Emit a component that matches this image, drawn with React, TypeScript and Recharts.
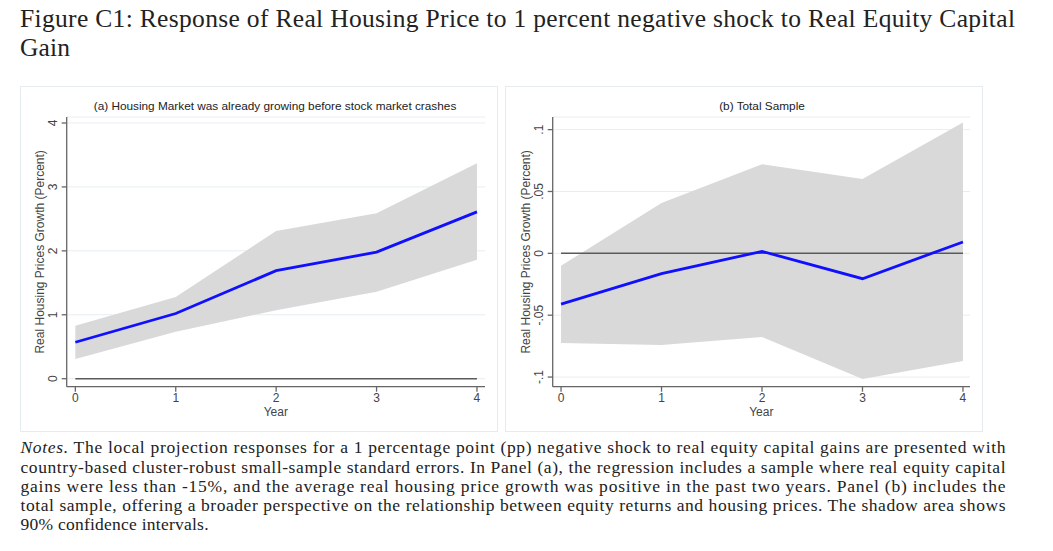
import React from "react"
import { ComposedChart, Area, Line, XAxis, YAxis, CartesianGrid, ReferenceLine } from "recharts"

// horizons (years after the crash)
const years = [0, 1, 2, 3, 4]

// panel (a): housing market already growing
const aEstimate = [0.57, 1.02, 1.69, 1.98, 2.61]
const aUpper = [0.83, 1.28, 2.31, 2.59, 3.37]
const aLower = [0.31, 0.735, 1.07, 1.36, 1.86]
const aTicks = [0, 1, 2, 3, 4]

// panel (b): total sample
const bEstimate = [-0.041, -0.0164, 0.0016, -0.0205, 0.0092]
const bUpper = [-0.01, 0.0406, 0.0721, 0.06, 0.1058]
const bLower = [-0.0724, -0.074, -0.0676, -0.1015, -0.087]
const bTicks = [-0.1, -0.05, 0, 0.05, 0.1]
const bTickLabels = ["-.1", "-.05", "0", ".05", ".1"]

const titleLines = [
  "Figure C1: Response of Real Housing Price to 1 percent negative shock to Real Equity Capital",
  "Gain",
]
const noteLines = [
  " The local projection responses for a 1 percentage point (pp) negative shock to real equity capital gains are presented with",
  "country-based cluster-robust small-sample standard errors. In Panel (a), the regression includes a sample where real equity capital",
  "gains were less than -15%, and the average real housing price growth was positive in the past two years. Panel (b) includes the",
  "total sample, offering a broader perspective on the relationship between equity returns and housing prices. The shadow area shows",
  "90% confidence intervals.",
]

const SANS = "'Liberation Sans', Arial, sans-serif"
const SERIF = "'Liberation Serif', 'Times New Roman', serif"
const INK = "#444"
const AXIS = "#666"

const toRows = (est: number[], lo: number[], hi: number[]) =>
  years.map((y, i) => ({ year: y, est: est[i], band: [lo[i], hi[i]] }))

function YTick(props: any) {
  const { x, y, payload, labels, ticks } = props
  const idx = ticks.indexOf(payload.value)
  const text = labels ? labels[idx] : String(payload.value)
  const bx = x - 3
  return (
    <text
      x={bx}
      y={y}
      transform={`rotate(-90 ${bx} ${y})`}
      textAnchor="middle"
      fontSize={12}
      fontFamily={SANS}
      fill={INK}
    >
      {text}
    </text>
  )
}

interface PanelProps {
  left: number
  width: number
  rightPad: number
  yAxisWidth: number
  est: number[]
  lo: number[]
  hi: number[]
  ticks: number[]
  labels?: string[]
  yDomain: [number, number]
  xDomain: [number, number]
}

function Panel({ left, width, rightPad, yAxisWidth, est, lo, hi, ticks, labels, yDomain, xDomain }: PanelProps) {
  const rows = toRows(est, lo, hi)
  return (
    <div style={{ position: "absolute", left, top: 87 }}>
      <ComposedChart width={width} height={345} data={rows} margin={{ top: 30, right: rightPad, bottom: 0, left: 0 }}>
        <CartesianGrid horizontal vertical={false} stroke="#e6eff0" strokeWidth={1} />
        <XAxis
          dataKey="year"
          type="number"
          domain={xDomain}
          ticks={years}
          allowDataOverflow
          height={45.3}
          tickSize={5}
          tickMargin={2}
          stroke={AXIS}
          strokeWidth={1.3}
          tick={{ fontSize: 12, fontFamily: SANS, fill: INK }}
          label={{ value: "Year", position: "insideBottom", offset: 16, fontSize: 12, fontFamily: SANS, fill: INK }}
        />
        <YAxis
          type="number"
          domain={yDomain}
          ticks={ticks}
          allowDataOverflow
          width={yAxisWidth}
          tickSize={5}
          tickMargin={2}
          stroke={AXIS}
          strokeWidth={1.3}
          tick={<YTick labels={labels} ticks={ticks} />}
          label={{
            value: "Real Housing Prices Growth (Percent)",
            angle: -90,
            position: "insideLeft",
            offset: yAxisWidth - 26.5,
            style: { textAnchor: "middle", fontSize: 12, fontFamily: SANS, fill: INK },
          }}
        />
        <Area
          dataKey="band"
          type="linear"
          fill="#d9d9d9"
          fillOpacity={1}
          stroke="none"
          isAnimationActive={false}
        />
        <ReferenceLine
          segment={[{ x: years[0], y: 0 }, { x: years[years.length - 1], y: 0 }]}
          stroke="#5a5a5a"
          strokeWidth={1.5}
        />
        <Line
          dataKey="est"
          type="linear"
          stroke="#1010ff"
          strokeWidth={2.8}
          dot={false}
          isAnimationActive={false}
        />
      </ComposedChart>
    </div>
  )
}

export default function App() {
  return (
    <div style={{ position: "absolute", left: 0, top: 0, width: 1053, height: 551, background: "#fff", overflow: "hidden" }}>
      <svg width={1053} height={551} style={{ position: "absolute", left: 0, top: 0 }}>
        <text x={20} y={27} fontFamily={SERIF} fontSize={25.5} fill="#222" textLength={995} lengthAdjust="spacing">
          {titleLines[0]}
        </text>
        <text x={20} y={56} fontFamily={SERIF} fontSize={25.5} fill="#222" textLength={50} lengthAdjust="spacing">
          {titleLines[1]}
        </text>

        <rect x={20.5} y={86.5} width={477} height={345} fill="none" stroke="#e4ecee" />
        <rect x={505.5} y={86.5} width={477} height={345} fill="none" stroke="#e4ecee" />

        <text x={275} y={110} textAnchor="middle" fontFamily={SANS} fontSize={11.8} fill="#222">
          (a) Housing Market was already growing before stock market crashes
        </text>
        <text x={762} y={110} textAnchor="middle" fontFamily={SANS} fontSize={11.8} fill="#222">
          (b) Total Sample
        </text>

        {noteLines.map((line, i) => (
          <text
            key={i}
            x={20.5}
            y={453.3 + i * 19.25}
            fontFamily={SERIF}
            fontSize={17.5}
            fill="#222"
            textLength={i === 4 ? 188 : 985}
            lengthAdjust="spacing"
          >
            {i === 0 && <tspan fontStyle="italic">Notes.</tspan>}
            {line}
          </text>
        ))}
      </svg>

      <Panel
        left={20}
        width={475}
        rightPad={10}
        yAxisWidth={46.7}
        est={aEstimate}
        lo={aLower}
        hi={aUpper}
        ticks={aTicks}
        yDomain={[-0.125, 4.094]}
        xDomain={[-0.086, 4.08]}
      />
      <Panel
        left={504}
        width={479}
        rightPad={13}
        yAxisWidth={48.7}
        est={bEstimate}
        lo={bLower}
        hi={bUpper}
        ticks={bTicks}
        labels={bTickLabels}
        yDomain={[-0.1078, 0.1102]}
        xDomain={[-0.083, 4.07]}
      />
    </div>
  )
}
